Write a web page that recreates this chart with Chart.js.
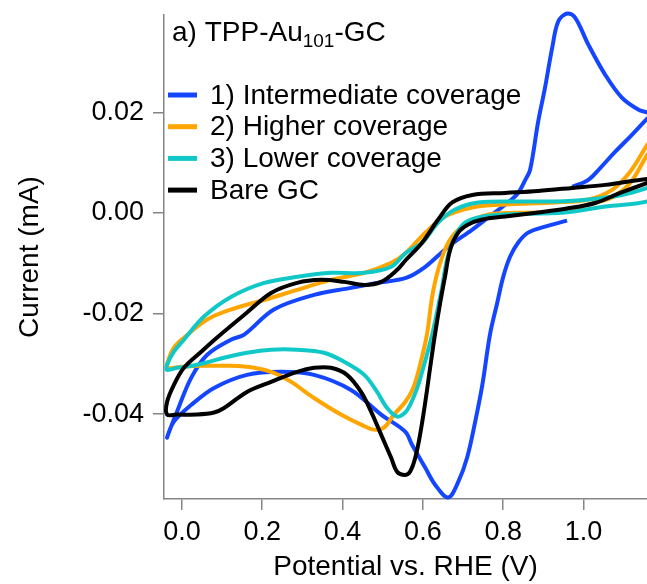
<!DOCTYPE html>
<html>
<head>
<meta charset="utf-8">
<script src="https://cdn.jsdelivr.net/npm/chart.js@4.4.0/dist/chart.umd.min.js"></script>
<style>
  html, body { margin: 0; padding: 0; background: #fff; }
  #wrap { width: 647px; height: 584px; }
</style>
</head>
<body>
<div id="wrap"><canvas id="myChart" width="647" height="584"></canvas></div>
<script>
// DATA (potential in V vs RHE, current in mA), traced in sweep order
const blueX = [0.959, 0.904, 0.862, 0.837, 0.817, 0.800, 0.785, 0.767, 0.748, 0.730,
  0.710, 0.688, 0.663, 0.630, 0.606, 0.573, 0.556, 0.496, 0.421, 0.329,
  0.247, 0.162, 0.080, 0.023, -0.020, -0.037, -0.012, 0.023, 0.063, 0.122,
  0.155, 0.229, 0.329, 0.421, 0.486, 0.558, 0.606, 0.663, 0.723, 0.772,
  0.812, 0.837, 0.855, 0.867, 0.887, 0.904, 0.922, 0.937, 0.959, 0.979,
  1.012, 1.054, 1.096, 1.136, 1.159, 1.171, 1.159, 1.121, 1.079, 1.042,
  1.012, 0.972];
const blueY = [-0.0015, -0.0027, -0.0039, -0.0059, -0.0087, -0.0127, -0.0179, -0.0242, -0.0342, -0.0416,
  -0.0487, -0.0535, -0.0566, -0.0540, -0.0507, -0.0461, -0.0435, -0.0401, -0.0352, -0.0322,
  -0.0316, -0.0322, -0.0348, -0.0382, -0.0415, -0.0447, -0.0395, -0.0328, -0.0282, -0.0252,
  -0.0242, -0.0192, -0.0163, -0.0149, -0.0139, -0.0129, -0.0107, -0.0067, -0.0033, -0.0003,
  0.0021, 0.0040, 0.0066, 0.0086, 0.0182, 0.0249, 0.0329, 0.0381, 0.0397, 0.0389,
  0.0335, 0.0275, 0.0229, 0.0206, 0.0200, 0.0196, 0.0188, 0.0156, 0.0122, 0.0090,
  0.0066, 0.0052];

const orangeX = [1.19, 1.159, 1.116, 1.071, 1.012, 0.972, 0.887, 0.763, 0.698, 0.663,
  0.638, 0.623, 0.610, 0.593, 0.576, 0.556, 0.528, 0.503, 0.479, 0.446,
  0.396, 0.329, 0.272, 0.229, 0.180, 0.122, 0.055, -0.002, -0.035, -0.035,
  -0.020, 0.005, 0.063, 0.122, 0.205, 0.287, 0.371, 0.454, 0.521, 0.558,
  0.606, 0.655, 0.723, 0.805, 0.929, 1.012, 1.071, 1.116, 1.159, 1.19];
const orangeY = [0.0150, 0.0116, 0.0060, 0.0031, 0.0017, 0.0007, 0.0001, -0.0003, -0.0027, -0.0059,
  -0.0113, -0.0167, -0.0242, -0.0302, -0.0348, -0.0376, -0.0401, -0.0427, -0.0431, -0.0421,
  -0.0401, -0.0368, -0.0336, -0.0318, -0.0308, -0.0304, -0.0304, -0.0306, -0.0308, -0.0296,
  -0.0268, -0.0248, -0.0212, -0.0192, -0.0173, -0.0153, -0.0133, -0.0119, -0.0099, -0.0079,
  -0.0039, -0.0007, 0.0011, 0.0017, 0.0021, 0.0027, 0.0046, 0.0082, 0.0136, 0.0170];

const cyanX = [1.19, 1.159, 1.054, 0.954, 0.805, 0.748, 0.705, 0.680, 0.660, 0.648,
  0.635, 0.623, 0.601, 0.586, 0.568, 0.556, 0.536, 0.511, 0.486, 0.454,
  0.404, 0.354, 0.287, 0.222, 0.162, 0.105, 0.038, -0.012, -0.037, -0.037,
  -0.020, 0.005, 0.055, 0.122, 0.205, 0.287, 0.371, 0.454, 0.521, 0.558,
  0.598, 0.638, 0.680, 0.738, 0.847, 0.929, 1.012, 1.096, 1.159, 1.19];
const cyanY = [0.0040, 0.0023, 0.0013, 0.0001, -0.0003, -0.0007, -0.0019, -0.0047, -0.0093, -0.0147,
  -0.0198, -0.0242, -0.0308, -0.0348, -0.0382, -0.0397, -0.0405, -0.0388, -0.0356, -0.0322,
  -0.0296, -0.0278, -0.0272, -0.0272, -0.0278, -0.0288, -0.0302, -0.0308, -0.0312, -0.0302,
  -0.0276, -0.0252, -0.0206, -0.0167, -0.0139, -0.0127, -0.0119, -0.0119, -0.0107, -0.0079,
  -0.0059, -0.0019, 0.0007, 0.0021, 0.0023, 0.0023, 0.0027, 0.0036, 0.0050, 0.0060];

const bareX = [1.19, 1.159, 1.091, 1.029, 0.959, 0.887, 0.805, 0.748, 0.713, 0.688,
  0.668, 0.655, 0.643, 0.630, 0.618, 0.606, 0.593, 0.581, 0.568, 0.556,
  0.536, 0.521, 0.496, 0.471, 0.446, 0.411, 0.371, 0.329, 0.287, 0.222,
  0.162, 0.105, 0.080, 0.038, -0.012, -0.037, -0.037, -0.020, 0.005, 0.048,
  0.087, 0.162, 0.222, 0.287, 0.346, 0.404, 0.454, 0.496, 0.536, 0.558,
  0.598, 0.638, 0.673, 0.723, 0.805, 0.887, 0.972, 1.054, 1.159, 1.19];
const bareY = [0.0068, 0.0060, 0.0040, 0.0020, 0.0009, 0.0001, -0.0007, -0.0013, -0.0023, -0.0039,
  -0.0073, -0.0127, -0.0179, -0.0242, -0.0308, -0.0376, -0.0441, -0.0487, -0.0515, -0.0521,
  -0.0515, -0.0487, -0.0441, -0.0395, -0.0356, -0.0322, -0.0308, -0.0308, -0.0316, -0.0336,
  -0.0356, -0.0388, -0.0397, -0.0401, -0.0401, -0.0401, -0.0376, -0.0342, -0.0308, -0.0276,
  -0.0248, -0.0198, -0.0159, -0.0139, -0.0133, -0.0137, -0.0143, -0.0137, -0.0113, -0.0093,
  -0.0059, -0.0013, 0.0021, 0.0036, 0.0040, 0.0044, 0.0050, 0.0056, 0.0068, 0.0068];

const seriesLabels = ["1) Intermediate coverage", "2) Higher coverage", "3) Lower coverage", "Bare GC"];
const seriesColors = ["#1446ff", "#ffa500", "#11c8c8", "#000000"];
const xTickStep = 0.2;
const yTickStep = 0.02;

const FONT = '"Liberation Sans", Arial, sans-serif';

function toPoints(xs, ys) {
  return xs.map((x, i) => ({ x: x, y: ys[i] }));
}

// panel label + legend drawn inside the plot area
const panelText = {
  id: "panelText",
  afterDraw(chart) {
    const ctx = chart.ctx;
    ctx.save();
    ctx.fillStyle = "#000";
    ctx.textBaseline = "alphabetic";
    ctx.textAlign = "left";
    let x = 172;
    ctx.font = "28px " + FONT;
    ctx.fillText("a) TPP-Au", x, 41);
    x += ctx.measureText("a) TPP-Au").width;
    ctx.font = "19px " + FONT;
    ctx.fillText("101", x, 47);
    x += ctx.measureText("101").width;
    ctx.font = "28px " + FONT;
    ctx.fillText("-GC", x, 41);

    ctx.textBaseline = "middle";
    ctx.font = "28px " + FONT;
    chart.data.datasets.forEach((ds, i) => {
      const y = 95 + i * 31.7;
      ctx.strokeStyle = ds.borderColor;
      ctx.lineWidth = 5;
      ctx.beginPath();
      ctx.moveTo(168, y);
      ctx.lineTo(197, y);
      ctx.stroke();
      ctx.fillText(ds.label, 210, y + 1);
    });
    ctx.restore();
  }
};

const datasets = [
  { label: seriesLabels[0], data: toPoints(blueX, blueY), borderColor: seriesColors[0], order: 3 },
  { label: seriesLabels[1], data: toPoints(orangeX, orangeY), borderColor: seriesColors[1], order: 2 },
  { label: seriesLabels[2], data: toPoints(cyanX, cyanY), borderColor: seriesColors[2], order: 1 },
  { label: seriesLabels[3], data: toPoints(bareX, bareY), borderColor: seriesColors[3], order: 0 }
].map(d => Object.assign(d, {
  showLine: true, pointRadius: 0, borderWidth: 4, tension: 0.35, fill: false, clip: false
}));

const axisGray = "#858585";

const config = {
  type: "scatter",
  data: { datasets: datasets },
  options: {
    responsive: false,
    animation: false,
    devicePixelRatio: 1,
    layout: { padding: { top: 15, right: 0, left: 0, bottom: 0 } },
    plugins: { legend: { display: false }, tooltip: { enabled: false } },
    scales: {
      x: {
        type: "linear",
        min: -0.0446,
        max: 1.158,
        afterFit: s => { s.height = 85; s.paddingLeft = 0; s.paddingRight = 0; },
        border: { display: true, color: axisGray, width: 1.5 },
        grid: { drawOnChartArea: false, drawTicks: true, tickLength: 11, color: axisGray, lineWidth: 1.5 },
        ticks: {
          stepSize: xTickStep, includeBounds: false, autoSkip: false, maxRotation: 0,
          padding: 6, color: "#000", font: { family: FONT, size: 27 },
          callback: v => v.toFixed(1)
        },
        title: { display: true, text: "Potential vs. RHE (V)", color: "#000",
          font: { family: FONT, size: 28 }, padding: { top: 0, bottom: 0 } }
      },
      y: {
        type: "linear",
        min: -0.0569,
        max: 0.0394,
        afterFit: s => { s.width = 164; s.paddingTop = 0; s.paddingBottom = 0; },
        border: { display: true, color: axisGray, width: 1.5 },
        grid: { drawOnChartArea: false, drawTicks: true, tickLength: 11, color: axisGray, lineWidth: 1.5 },
        ticks: {
          stepSize: yTickStep, includeBounds: false, autoSkip: false,
          padding: 9, color: "#000", font: { family: FONT, size: 27 },
          callback: v => (Math.abs(v) < 1e-9 ? "0.00" : v.toFixed(2))
        },
        title: { display: true, text: "Current (mA)", color: "#000",
          font: { family: FONT, size: 28 }, padding: { top: 13, bottom: 0 } }
      }
    }
  },
  plugins: [panelText]
};

function drawChart() {
  const ctx = document.getElementById("myChart");
  new Chart(ctx, config);
}
drawChart();
</script>
</body>
</html>
